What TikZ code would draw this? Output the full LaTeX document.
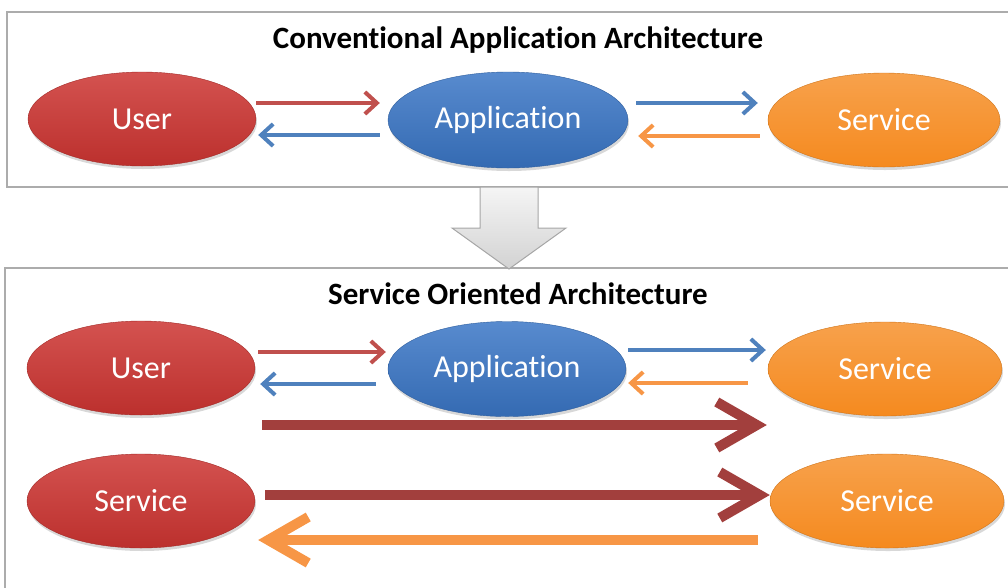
\documentclass[tikz,border=0pt]{standalone}
\usepackage{fontspec}
\setmainfont{Carlito}[Ligatures=NoCommon]
\usetikzlibrary{arrows.meta, positioning, shapes.geometric, shadows}

\definecolor{ovalred}{HTML}{CC3431}
\definecolor{ovalblue}{HTML}{3A76C6}
\definecolor{ovalorange}{HTML}{F58A1F}
\definecolor{arrred}{HTML}{C0504D}
\definecolor{arrblue}{HTML}{4F81BD}
\definecolor{arrorange}{HTML}{F79646}
\definecolor{bigred}{HTML}{A23F3D}

\begin{document}
\begin{tikzpicture}[
  x=1pt, y=-1pt,
  panel/.style={draw=gray!65, line width=1.5pt, fill=white},
  heading/.style={font=\fontsize{31}{36}\selectfont\bfseries},
  oval/.style={
    ellipse, inner sep=0pt,
    minimum width=230pt, minimum height=94pt,
    text=white, font=\fontsize{32}{36}\selectfont,
    drop shadow={opacity=0.3, shadow xshift=1pt, shadow yshift=-3pt}
  },
  redoval/.style={oval, top color=ovalred!85!white, bottom color=ovalred!92!black, draw=ovalred!80!black},
  blueoval/.style={oval, top color=ovalblue!85!white, bottom color=ovalblue!90!black, draw=ovalblue!80!black},
  orangeoval/.style={oval, top color=ovalorange!80!white, bottom color=ovalorange, draw=ovalorange!85!black},
  arr/.style={line width=4pt, -{Straight Barb[length=12pt, width=22pt]}},
  bigarr/.style={line width=10pt, -{Straight Barb[length=40pt, width=46pt]}}
]
  \useasboundingbox (0,0) rectangle (1008,587);
  \begin{scope}
    \clip (0,0) rectangle (1008,587);
    \draw[panel] (7,12) rectangle (1030,187);
    \draw[panel] (5,268) rectangle (1030,610);
  \end{scope}

  % down arrow between the two panels
  \draw[top color=gray!8, bottom color=gray!35, draw=gray!70, line width=1pt]
    (480,187) -- (538,187) -- (538,228) -- (566,228) -- (509,269)
    -- (452,228) -- (480,228) -- cycle;

  \node[heading] (conv) at (518,40) {Conventional Application Architecture};
  \node[heading] (soa) at (518,294) {Service Oriented Architecture};

  % conventional
  \node[redoval, minimum width=228pt] (user1) at (142,119) {User};
  \node[blueoval, minimum width=240pt, minimum height=96pt] (app1) at (508,120) {Application};
  \node[orangeoval, minimum width=232pt] (svc1) at (884,120) {Service};

  \draw[arr, arrred] ([shift={(0,-16)}]user1.east) -- ([shift={(-8,-17)}]app1.west);
  \draw[arr, arrblue] ([shift={(-8,15)}]app1.west) -- ([shift={(2,16)}]user1.east);
  \draw[arr, arrblue] ([shift={(8,-17)}]app1.east) -- ([shift={(-10,-17)}]svc1.west);
  \draw[arr, arrorange] ([shift={(-8,16)}]svc1.west) -- ([shift={(10,16)}]app1.east);

  % service oriented
  \node[redoval, minimum width=228pt] (user2) at (141,368) {User};
  \node[blueoval, minimum width=238pt, minimum height=95pt] (app2) at (507,369) {Application};
  \node[orangeoval, minimum width=234pt] (svc2) at (885,369) {Service};
  \node[redoval, minimum width=228pt] (svc3) at (141,501) {Service};
  \node[orangeoval, minimum width=234pt] (svc4) at (887,501) {Service};

  \draw[arr, arrred] ([shift={(3,-16)}]user2.east) -- ([shift={(-2,-17)}]app2.west);
  \draw[arr, arrblue] ([shift={(-12,15)}]app2.west) -- ([shift={(5,16)}]user2.east);
  \draw[arr, arrblue] ([shift={(2,-19)}]app2.east) -- ([shift={(-2,-19)}]svc2.west);
  \draw[arr, arrorange] ([shift={(-20,14)}]svc2.west) -- ([shift={(2,14)}]app2.east);
  \draw[bigarr, bigred] ([shift={(7,57)}]user2.east) -- ([shift={(-1,56)}]svc2.west);

  \draw[bigarr, bigred] ([shift={(10,-6)}]svc3.east) -- ([shift={(0,-6)}]svc4.west);
  \draw[bigarr, arrorange] ([shift={(-12,39)}]svc4.west) -- ([shift={(3,39)}]svc3.east);
\end{tikzpicture}
\end{document}
